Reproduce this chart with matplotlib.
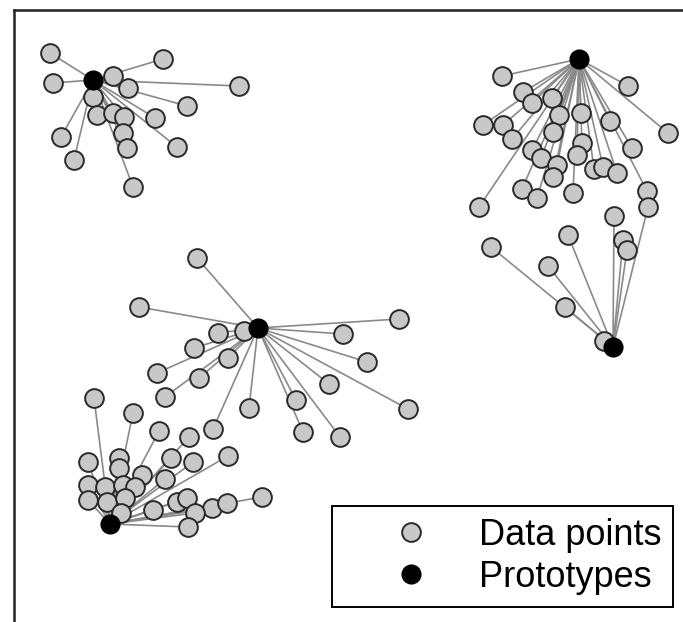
import numpy as np
import matplotlib.pyplot as plt
from matplotlib.lines import Line2D

# prototypes (cluster centres) in pixel units
proto_x = [93, 579, 613, 258, 110]
proto_y = [80, 59, 347, 328, 524]

# data points, one pair of arrays per prototype
c0_x = [50, 53, 113, 163, 128, 239, 187, 93, 97, 113, 124, 155, 123, 127, 177, 61, 74, 133]
c0_y = [53, 83, 76, 59, 88, 86, 106, 97, 115, 113, 117, 118, 133, 148, 147, 137, 160, 187]

c1_x = [502, 628, 523, 532, 552, 559, 581, 610, 668, 483, 503, 512, 553, 582, 632, 532,
        541, 577, 557, 553, 594, 603, 617, 522, 537, 573, 647, 479]
c1_y = [76, 86, 92, 103, 98, 115, 113, 121, 133, 125, 125, 139, 132, 143, 148, 150,
        158, 155, 165, 177, 169, 167, 173, 189, 198, 193, 191, 207]

c2_x = [648, 614, 568, 623, 627, 491, 548, 565, 604]
c2_y = [207, 216, 235, 240, 250, 247, 266, 307, 341]

c3_x = [197, 139, 399, 218, 244, 343, 194, 228, 367, 157, 199, 329, 165, 249, 296, 408, 213, 303, 340]
c3_y = [258, 307, 319, 333, 331, 334, 348, 358, 362, 373, 378, 384, 397, 408, 400, 409, 429, 432, 437]

c4_x = [94, 133, 159, 189, 228, 88, 119, 171, 193, 119, 142, 165, 88, 105, 123, 135,
        88, 107, 125, 177, 187, 212, 195, 227, 262, 153, 121, 188]
c4_y = [398, 413, 431, 437, 456, 462, 458, 458, 462, 468, 475, 479, 485, 487, 485, 487,
        500, 502, 498, 502, 498, 508, 513, 503, 497, 510, 513, 527]

clusters = [(c0_x, c0_y), (c1_x, c1_y), (c2_x, c2_y), (c3_x, c3_y), (c4_x, c4_y)]

fig = plt.figure(figsize=(6.83, 6.22), dpi=100)
ax = fig.add_axes([14 / 683, 0, 1 - 14 / 683, 612 / 622])
ax.set_xlim(14, 683)
ax.set_ylim(622, 10)

fill = "#c8c8c8"
edge = "#2a2a2a"
ms = 13.5

for (px, py), (xs, ys) in zip(zip(proto_x, proto_y), clusters):
    for x, y in zip(xs, ys):
        ax.plot([px, x], [py, y], color="#8a8a8a", lw=1.2, zorder=1)
    ax.plot(xs, ys, "o", ms=ms, mfc=fill, mec=edge, mew=1.4, ls="none", zorder=2)

ax.plot(proto_x, proto_y, "o", ms=ms, mfc="black", mec="black", mew=1.0, ls="none", zorder=3)

ax.set_xticks([])
ax.set_yticks([])
ax.spines["right"].set_visible(False)
ax.spines["bottom"].set_visible(False)
for s in ("left", "top"):
    ax.spines[s].set_linewidth(1.8)
    ax.spines[s].set_color("#222222")

handles = [
    Line2D([], [], marker="o", ls="none", ms=ms, mfc=fill, mec=edge, mew=1.4, label="Data points"),
    Line2D([], [], marker="o", ls="none", ms=ms, mfc="black", mec="black", label="Prototypes"),
]
leg = ax.legend(handles=handles, loc="lower right",
                bbox_to_anchor=(673 / 683, (622 - 607) / 622), bbox_transform=fig.transFigure,
                fancybox=False, framealpha=1, edgecolor="black",
                prop={"family": "Liberation Sans", "size": 26}, handletextpad=0.05,
                borderpad=0.33, labelspacing=0.2, handlelength=3.67, borderaxespad=0)
leg.get_frame().set_linewidth(1.4)

fig.savefig("out.png", dpi=100)
